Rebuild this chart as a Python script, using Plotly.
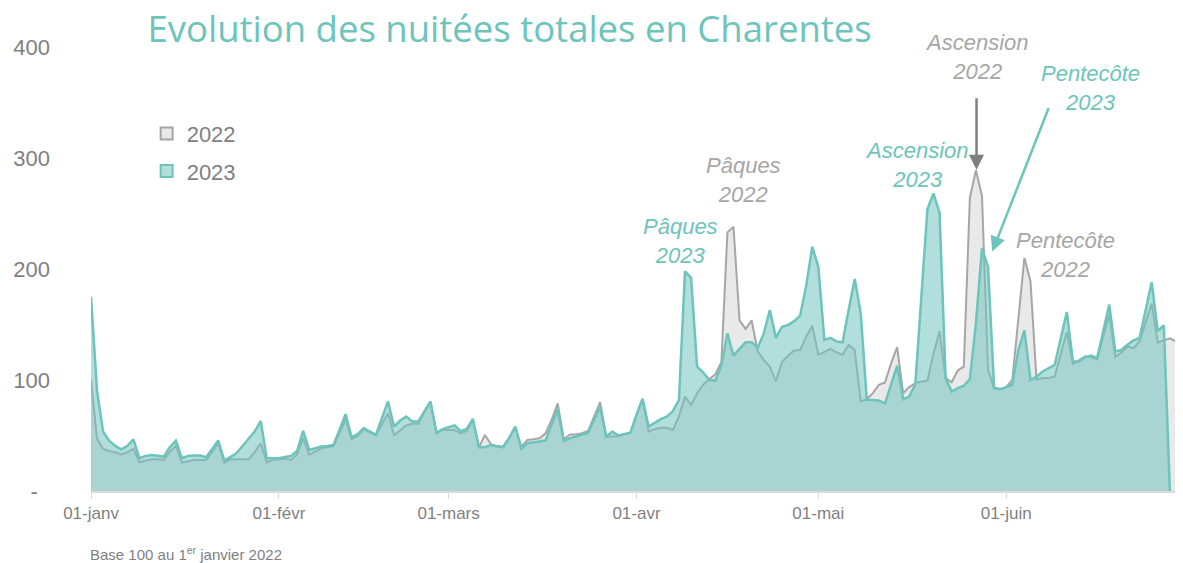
import plotly.graph_objects as go

# ---- data (day index 0 = 1er janvier) ----
days = list(range(181))

nuitees_2022 = [
    100, 47, 38, 36, 35, 33, 35, 38, 26, 27.5, 28.5, 28.5, 28, 35, 40.6, 25.6, 27, 28, 28, 28,
    35, 43, 25.6, 28.6, 28.6, 28.6, 28.6, 35, 43, 25.8, 28, 28.6, 29, 28, 33, 47.6, 32.5, 35.5, 38.5, 39.3,
    40.5, 52, 64.2, 46.6, 49.7, 55.7, 52.6, 50.5, 60.2, 70, 50.2, 55, 59, 60.5, 60.5, 71.6, 80.6, 52, 55, 55,
    55, 52, 54, 64, 39.4, 50.5, 42, 40.5, 40, 48, 57.5, 40, 46, 46.6, 47.5, 52, 64, 79, 46.6, 51,
    51, 52, 54, 67, 80, 49, 49, 49.3, 51, 52.6, 68.5, 83, 53.5, 55.7, 57, 57, 55, 67, 85, 77.6,
    88, 95.7, 100.8, 105, 116, 233, 238, 153.7, 146, 153.7, 125.7, 118, 112, 99, 116, 122, 126.6, 127, 139, 149,
    122.7, 125, 128, 124.8, 122.7, 131.8, 127, 80.6, 82.7, 88.2, 95.7, 97.8, 115, 129.7, 88.2, 93.6, 97.2, 98.7, 99.3, 124,
    143.8, 101.7, 98, 108.6, 112, 264, 289, 266, 109, 92.7, 91.8, 93.6, 100, 155, 210, 189, 100.2, 101.7, 101.7, 103.2,
    123, 143.2, 114.6, 118.2, 121.2, 120.6, 118.8, 139.3, 158.8, 120.6, 124.8, 130.2, 128.7, 134.8, 152, 168.8, 133.9, 135.7, 137.5, 134.8,
    135.7,
]

nuitees_2023 = [
    175, 90, 53.5, 45.4, 40.6, 37.6, 40.6, 46.6, 29.5, 31.6, 32.5, 32, 31, 39.4, 45.4, 29.5, 31.6, 32, 32, 30.4,
    38.5, 45.4, 27.4, 31, 34, 40.6, 47.5, 53.5, 63.2, 29.5, 29.5, 29.5, 30.6, 31.6, 36, 54.2, 37, 38.5, 40, 40.5,
    41.5, 55, 69.2, 48.4, 51.2, 56.6, 53.6, 50.5, 65.6, 80.6, 58, 63.5, 67, 62.6, 62.6, 71.6, 80.6, 52.6, 55.7, 57.5,
    59, 54, 56, 65, 39.4, 39.4, 41.5, 40, 39.4, 47.8, 58, 38, 43, 44, 45, 45.4, 60, 73.7, 45, 47.5,
    49, 50.5, 52.6, 64, 75.5, 49, 53.5, 50, 51, 52.6, 68.5, 83, 58, 61.6, 64.7, 67, 72, 82, 198, 192,
    112, 107, 100, 99.5, 113, 142, 122, 128, 134, 134, 129, 142, 163, 138, 148, 149.5, 153, 158, 185, 220,
    202, 136, 138, 134.8, 134, 163, 191, 160, 82, 82, 81.5, 79, 95.7, 112.8, 82.7, 85, 96, 175, 254, 268,
    250.6, 101.7, 89.6, 92.7, 94.8, 100.8, 151, 218.7, 201.9, 92.7, 91.8, 93.6, 95.7, 127, 144.7, 100, 103, 107.7, 110.7, 113.7,
    137.5, 161.3, 116.7, 116.7, 120.6, 122, 119.7, 143.8, 167.9, 125.7, 127, 131.8, 135.7, 137.8, 162.8, 188, 144.4, 149.2, 0, None,
    None,
]

month_ticks = [0, 31, 59, 90, 120, 151]
month_labels = ["01-janv", "01-févr", "01-mars", "01-avr", "01-mai", "01-juin"]
y_ticks = [0, 100, 200, 300, 400]
y_labels = ["-\u2007", "100", "200", "300", "400"]

# annotations: (text, x day, y value, colour)
labels = [
    ("Pâques<br>2022", 107.6, 280, "grey"),
    ("Pâques<br>2023", 97.3, 225, "teal"),
    ("Ascension<br>2023", 136.2, 294, "teal"),
    ("Ascension<br>2022", 146.1, 391, "grey"),
    ("Pentecôte<br>2023", 164.9, 363, "teal"),
    ("Pentecôte<br>2022", 160.7, 213, "grey"),
]
# arrows: (tip x day, tip y value, tail dx px, tail dy px, colour)
arrows = [
    (146.1, 289.5, 0, -73, "dgrey"),
    (148.7, 215.7, 57, -145, "teal"),
]

TEAL = "#6cc4bb"
GREY_LINE = "#a6a6a6"
GREY_FILL = "#e9e9e9"
TEAL_FILL = "rgba(115,197,190,0.55)"
TXT = "#7f7f7f"
COLS = {"grey": "#a6a6a6", "teal": TEAL, "dgrey": "#7f7f7f"}
FONT = "Liberation Sans, Arial, sans-serif"

fig = go.Figure()
fig.add_trace(go.Scatter(x=days, y=nuitees_2022, mode="lines", fill="tozeroy",
                         fillcolor=GREY_FILL, line=dict(color=GREY_LINE, width=2),
                         showlegend=False, hoverinfo="skip"))
fig.add_trace(go.Scatter(x=days, y=nuitees_2023, mode="lines", fill="tozeroy",
                         fillcolor=TEAL_FILL, line=dict(color=TEAL, width=2.5),
                         connectgaps=False, showlegend=False, hoverinfo="skip"))
# legend entries
fig.add_trace(go.Scatter(x=[None], y=[None], mode="markers", name="2022", legendgroup="a",
                         marker=dict(symbol="square", size=12, color=GREY_FILL,
                                     line=dict(color=GREY_LINE, width=2))))
fig.add_trace(go.Scatter(x=[None], y=[None], mode="markers", name="2023", legendgroup="b",
                         marker=dict(symbol="square", size=12, color="#b2dfdb",
                                     line=dict(color=TEAL, width=2))))

for text, x, y, c in labels:
    fig.add_annotation(x=x, y=y, xref="x", yref="y", text="<i>" + text.replace("<br>", "</i><br><i>") + "</i>",
                       showarrow=False,
                       font=dict(family=FONT, size=22, color=COLS[c]),
                       xanchor="center", yanchor="middle", align="center")
for x, y, ax, ay, c in arrows:
    fig.add_annotation(x=x, y=y, xref="x", yref="y", text="", showarrow=True,
                       ax=ax, ay=ay, arrowhead=2, arrowsize=1.2, arrowwidth=2.5,
                       arrowcolor=COLS[c])

fig.add_annotation(x=-0.003, y=-0.14, xref="paper", yref="paper",
                   text="Base 100 au 1<sup>er</sup> janvier 2022", showarrow=False,
                   xanchor="left", yanchor="middle",
                   font=dict(family=FONT, size=15, color=TXT))

fig.update_layout(
    width=1175, height=555,
    margin=dict(l=83, r=1, t=39, b=72),
    paper_bgcolor="white", plot_bgcolor="white",
    title=dict(text="Evolution des nuitées totales en Charentes",
               font=dict(family="Open Sans, sans-serif", size=36.5, color=TEAL),
               x=0.4269, xanchor="center", y=0.9625, yanchor="middle"),
    legend=dict(x=0.051, y=0.852, xanchor="left", yanchor="top",
                font=dict(family=FONT, size=22, color=TXT),
                tracegroupgap=6, itemwidth=30, bgcolor="rgba(0,0,0,0)"),
    xaxis=dict(range=[0, 180], tickvals=month_ticks, ticktext=month_labels,
               showgrid=False, zeroline=False, showline=True, linecolor="#d9d9d9",
               linewidth=2, ticks="outside", ticklen=6, tickcolor="#d9d9d9",
               automargin=False,
               tickfont=dict(family=FONT, size=17, color=TXT)),
    yaxis=dict(range=[0, 400], tickvals=y_ticks, ticktext=y_labels,
               showgrid=False, zeroline=False, showline=False, ticks="",
               ticklabelstandoff=40, automargin=False,
               tickfont=dict(family=FONT, size=22, color=TXT)),
)

fig.write_html("out.html")
